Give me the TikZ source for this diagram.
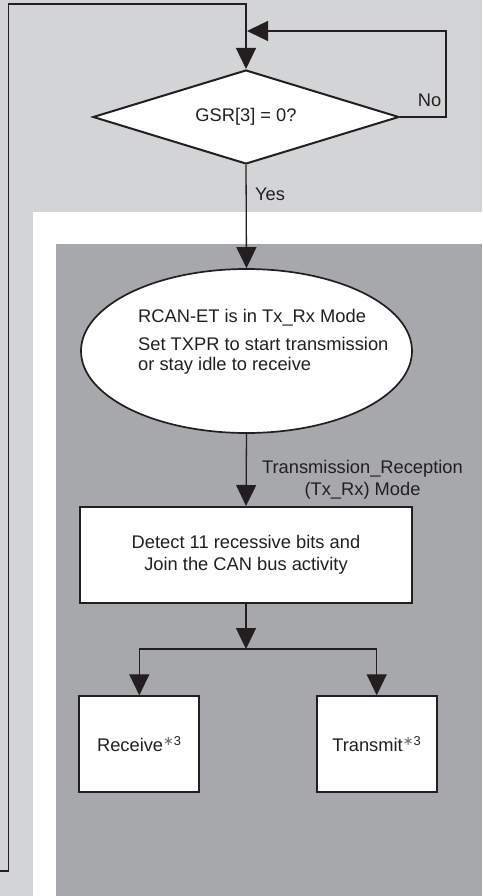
\documentclass[tikz,border=0pt]{standalone}
\usepackage{fontspec}
\setmainfont{Liberation Sans}
\newfontfamily\djv{DejaVu Sans}
\usetikzlibrary{arrows.meta,shapes.geometric}
\definecolor{lightbg}{RGB}{211,212,214}
\definecolor{darkbg}{RGB}{167,168,171}
\definecolor{ink}{RGB}{35,31,32}
\definecolor{stargray}{RGB}{110,110,112}
\newcommand{\starthree}{\textsuperscript{{\djv\color{stargray}∗}3}}
\begin{document}
\begin{tikzpicture}[x=1pt,y=-1pt,
  every node/.style={font=\fontsize{18.3}{22.4}\selectfont, text=ink},
  conn/.style={draw=ink, line width=1.3pt},
  arr/.style={conn, -{Triangle[length=21pt,width=20pt]}},
  box/.style={draw=ink, fill=white, line width=2pt, rectangle, inner sep=0pt, align=center},
  decision/.style={draw=ink, fill=white, line width=2pt, diamond, inner sep=0pt, aspect=3.25},
  oval/.style={draw=ink, fill=white, line width=1.7pt, ellipse, inner sep=0pt},
  lbl/.style={inner sep=0pt}]
\useasboundingbox (0,0) rectangle (482,896);
\fill[lightbg] (0,0) rectangle (482,896);
\fill[white] (33,212) rectangle (482,896);
\fill[darkbg] (56,244) rectangle (482,896);

\node[decision, minimum width=306pt, minimum height=94pt] (dec) at (246,117) {GSR[3] = 0?};
\node[oval, minimum width=331pt, minimum height=164pt] (ell) at (246.5,351) {};
\node[lbl, anchor=west, align=left, font=\fontsize{18.3}{20}\selectfont] (elltext) at (138,341.5)
  {RCAN-ET is in Tx\_Rx Mode\\[8pt]Set TXPR to start transmission\\or stay idle to receive};
\node[box, minimum width=332pt, minimum height=96pt] (det) at (246,555)
  {Detect 11 recessive bits and\\Join the CAN bus activity};
\node[box, minimum width=120pt, minimum height=96pt] (recv) at (139.3,744.3) {Receive\starthree};
\node[box, minimum width=120pt, minimum height=96pt] (trans) at (376.7,744.3) {Transmit\starthree};

\node[lbl, anchor=west] (yes) at (255,194.5) {Yes};
\node[lbl] (no) at (429.5,100) {No};
\node[lbl, align=center] (mode) at (362.5,479.5) {Transmission\_Reception\\(Tx\_Rx) Mode};

\coordinate (lstart) at (0,871);
\coordinate (ltop) at (8.7,4);
\coordinate (nocorner) at (446,31);
\coordinate (merge) at (247,31);
\coordinate (split) at (246,649);

\draw[arr] (lstart) -| (ltop) -| (dec.north);
\draw[arr] (dec.east) -| (nocorner) -- (merge);
\draw[arr] (dec.south) -- (ell.north);
\draw[arr] (ell.south) -- (det.north);
\draw[arr] (det.south) -- (split);
\draw[arr] (split) -| (recv.north);
\draw[arr] (split) -| (trans.north);
\end{tikzpicture}
\end{document}
